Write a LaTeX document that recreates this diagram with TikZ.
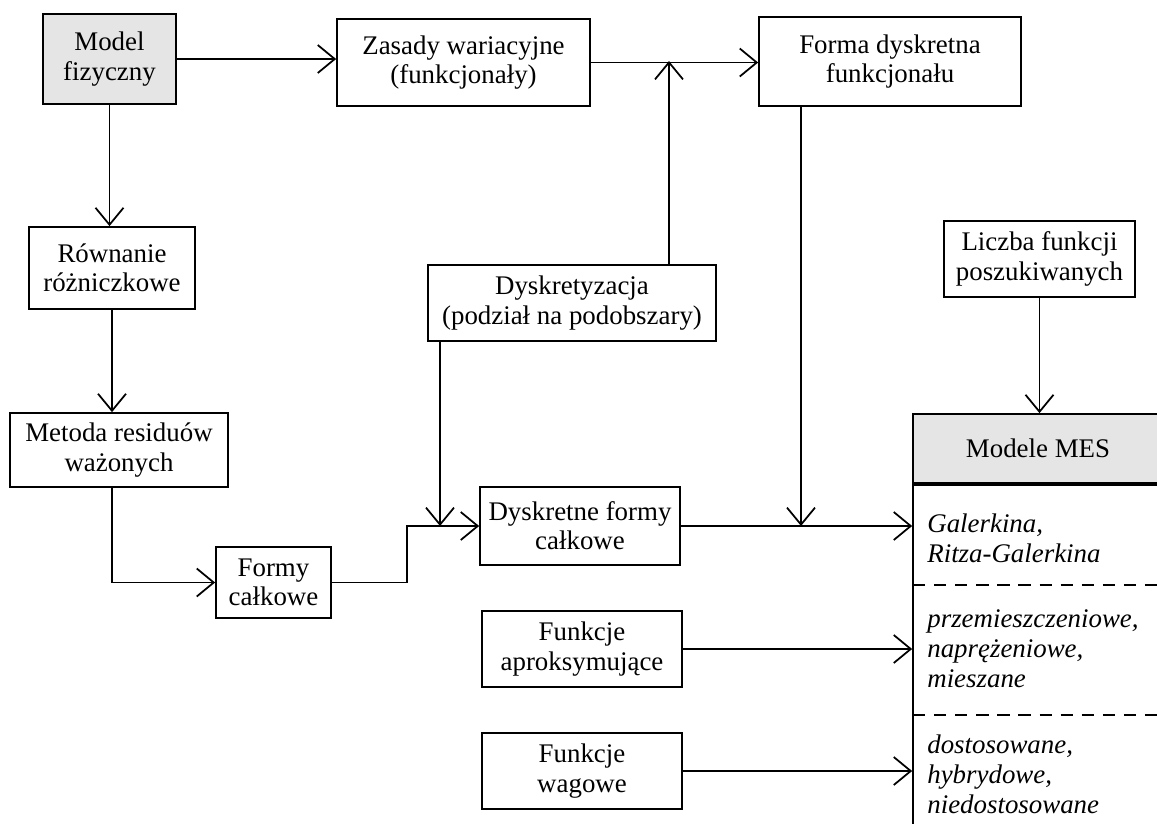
\documentclass[tikz,border=0pt]{standalone}
\usepackage{fontspec}
\setmainfont{Liberation Serif}
\usetikzlibrary{arrows.meta}
\definecolor{szary}{RGB}{229,229,229}
\tikzset{
  blok/.style={draw, line width=1pt, align=center, inner sep=0pt,
    font=\fontsize{15.3}{16.6}\selectfont},
  opis/.style={anchor=base west, align=left, inner sep=0pt,
    font=\fontsize{15.3}{17}\selectfont\itshape},
  pil/.style={line width=1pt, -{Straight Barb[length=3.4mm,width=5.6mm,line width=1pt]}},
  lin/.style={line width=1pt},
}
\begin{document}
\begin{tikzpicture}[x=0.02cm, y=-0.02cm]
          \useasboundingbox (0,0) rectangle (1157,823);
          \clip (0,0) rectangle (1157,823);

          \node [blok, fill=szary, minimum width=2.66cm, minimum height=1.80cm] (fiz) at (109.5,59) {Model\\fizyczny};
          \node [blok, minimum width=5.06cm, minimum height=1.74cm] (zas) at (463.5,62.5) {Zasady wariacyjne\\(funkcjonały)};
          \node [blok, minimum width=5.24cm, minimum height=1.78cm] (forma) at (890,61.5) {Forma dyskretna\\funkcjonału};
          \node [blok, minimum width=3.32cm, minimum height=1.64cm] (rown) at (112,268) {Równanie\\różniczkowe};
          \node [blok, minimum width=4.36cm, minimum height=1.48cm] (metoda) at (119,450) {Metoda residuów\\ważonych};
          \node [blok, minimum width=2.30cm, minimum height=1.42cm] (formy) at (273.5,582.5) {Formy\\całkowe};
          \node [blok, minimum width=5.76cm, minimum height=1.52cm] (dysk) at (572,303) {Dyskretyzacja\\(podział na podobszary)};
          \node [blok, minimum width=4.00cm, minimum height=1.56cm] (dform) at (580,526) {Dyskretne formy\\całkowe};
          \node [blok, minimum width=3.82cm, minimum height=1.52cm] (liczba) at (1039.5,259) {Liczba funkcji\\poszukiwanych};
          \node [blok, minimum width=4.00cm, minimum height=1.52cm] (aprox) at (582,649) {Funkcje\\aproksymujące};
          \node [blok, minimum width=4.00cm, minimum height=1.52cm] (wag) at (582,771) {Funkcje\\wagowe};

          % Modele MES
          \node [blok, fill=szary, minimum width=5.00cm, minimum height=1.38cm] (mesHead) at (1038,448.5) {Modele MES};
          \node [blok, minimum width=5.00cm, minimum height=7.54cm, anchor=north] (mesBody) at (mesHead.south) {};
          \draw [lin, dashed, dash pattern=on 7pt off 5pt] (913,585) -- (1170,585);
          \draw [lin, dashed, dash pattern=on 7pt off 5pt] (913,715) -- (1170,715);
          \node [opis] (mesA) at (927,562) {Galerkina,\\Ritza-Galerkina};
          \node [opis] (mesB) at (927,687) {przemieszczeniowe,\\naprężeniowe,\\mieszane};
          \node [opis] (mesC) at (927,813) {dostosowane,\\hybrydowe,\\niedostosowane};

          \coordinate (gora) at (669,61);
          \coordinate (k1) at (112,0);
          \coordinate (k2) at (407,0);
          \coordinate (d1) at (440,0);
          \coordinate (d2) at (801,0);

          \draw [pil] (fiz.east) -- (fiz.east -| zas.west);
          \draw [pil] (zas.east) -- (zas.east -| forma.west);
          \draw [pil] (dysk.north -| gora) -- (gora);
          \draw [pil] (fiz.south) -- (fiz.south |- rown.north);
          \draw [pil] (rown.south) -- (rown.south |- metoda.north);
          \draw [pil] (metoda.south -| k1) |- (formy.west);
          \draw [pil] (formy.east) -| (k2 |- dform.west) -- (dform.west);
          \draw [pil] (dysk.south -| d1) -- (d1 |- dform.west);
          \draw [pil] (forma.south -| d2) -- (d2 |- dform.east);
          \draw [pil] (dform.east) -- (dform.east -| mesBody.west);
          \draw [pil] (liczba.south) -- (liczba.south |- mesHead.north);
          \draw [pil] (aprox.east) -- (aprox.east -| mesBody.west);
          \draw [pil] (wag.east) -- (wag.east -| mesBody.west);

\end{tikzpicture}
\end{document}
